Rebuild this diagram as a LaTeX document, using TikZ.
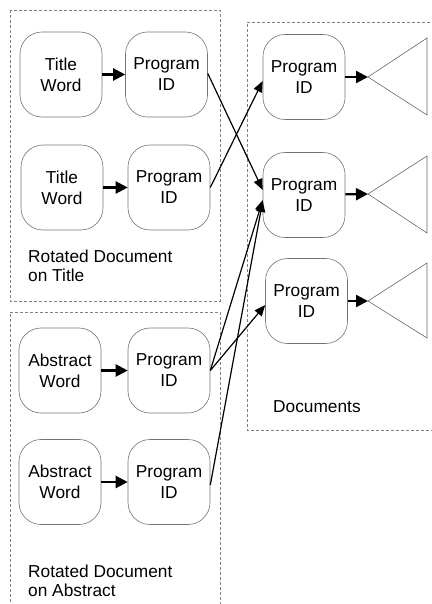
\documentclass[tikz,border=0pt]{standalone}
\usepackage{fontspec}
\setmainfont{Liberation Sans}
\usetikzlibrary{arrows.meta}
\tikzset{
  rbox/.style={draw=black!55, line width=0.6pt, rounded corners=22pt, minimum width=82pt, minimum height=85pt, align=center, inner sep=0pt, font=\fontsize{17.3}{21}\selectfont},
  frame/.style={draw=black!50, line width=0.6pt, dash pattern=on 3pt off 2pt},
  tri/.style={draw=black!60, line width=0.6pt},
  short/.style={line width=2.2pt, -{Triangle[length=12pt,width=12pt]}},
  link/.style={line width=1.2pt, -{Triangle[length=11pt,width=9pt]}},
  lbl/.style={align=left, inner sep=0pt, font=\fontsize{17.3}{19}\selectfont}
}
\begin{document}
\begin{tikzpicture}[x=1pt,y=-1pt]
\useasboundingbox (0,0) rectangle (431,604);
% frames
\draw[frame] (10,10) rectangle (220,301);
\draw[frame] (220,620) -- (220,312) -- (10,312) -- (10,620);
\draw[frame] (440,22) -- (247,22) -- (247,430) -- (440,430);
% left nodes
\node[rbox] (tw1) at (61,74.5) {Title\\Word};
\node[rbox] (p1) at (166.5,74.5) {Program\\ID};
\node[rbox] (tw2) at (62,187.5) {Title\\Word};
\node[rbox] (p2) at (169,187.5) {Program\\ID};
\node[rbox] (aw1) at (60,370.5) {Abstract\\Word};
\node[rbox] (p3) at (169,370.5) {Program\\ID};
\node[rbox] (aw2) at (60,482) {Abstract\\Word};
\node[rbox] (p4) at (169,482) {Program\\ID};
% right nodes
\node[rbox] (r1) at (304,77) {Program\\ID};
\node[rbox] (r2) at (304,195) {Program\\ID};
\node[rbox] (r3) at (306.5,301) {Program\\ID};
% triangles
\coordinate (t1) at (368,77);
\coordinate (t2) at (368,194);
\coordinate (t3) at (368,301);
\draw[tri] (t1) -- (427,38) -- (427,115) -- cycle;
\draw[tri] (t2) -- (427,156) -- (427,233) -- cycle;
\draw[tri] (t3) -- (427,263) -- (427,338) -- cycle;
% labels (base anchor = last line's baseline)
\node[lbl, anchor=base west] (l1) at (28,281) {Rotated Document\\on Title};
\node[lbl, anchor=base west] (l2) at (28,596) {Rotated Document\\on Abstract};
\node[lbl, anchor=base west] (l3) at (273,412) {Documents};
% short arrows
\draw[short] (tw1) -- (p1);
\draw[short] (tw2) -- (p2);
\draw[short] (aw1) -- (p3);
\draw[short] (aw2) -- (p4);
\draw[short] (r1) -- (t1);
\draw[short] (r2) -- (t2);
\draw[short] (r3) -- (t3);
% links
\draw[link] ([yshift=1pt]p1.east) -- ([yshift=5pt]r2.west);
\draw[link] (p2.east) -- ([yshift=-4pt]r1.west);
\draw[link] (p3.east) -- ([yshift=-5pt]r2.west);
\draw[link] (p3.east) -- ([yshift=-4pt]r3.west);
\draw[link] ([yshift=-3pt]p4.east) -- ([yshift=-6pt]r2.west);
\end{tikzpicture}
\end{document}
